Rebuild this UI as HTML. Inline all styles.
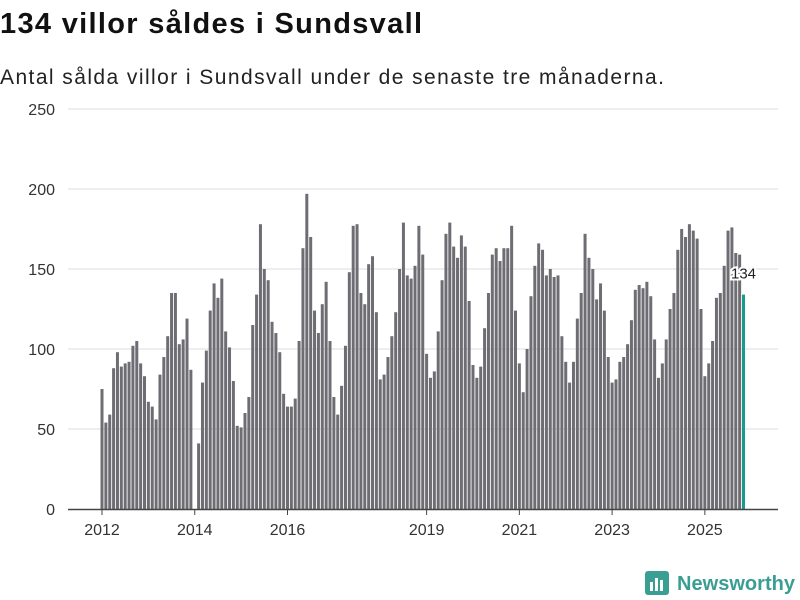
<!DOCTYPE html>
<html><head><meta charset="utf-8"><style>
html,body{margin:0;padding:0;background:#fff;}
svg{display:block;font-family:"Liberation Sans","DejaVu Sans",sans-serif;}
</style></head><body>
<svg id="chart" width="800" height="600" viewBox="0 0 800 600">
<text x="0" y="33" font-size="29" font-weight="bold" fill="#111" textLength="422">134 villor såldes i Sundsvall</text>
<text x="0" y="84" font-size="21" fill="#222" textLength="664">Antal sålda villor i Sundsvall under de senaste tre månaderna.</text>
<g id="grid"></g>
<g id="bars"></g>
<g id="xaxis"></g>
<g>
<rect x="645" y="571" width="24" height="24" rx="3" fill="#3a9e92"/>
<rect x="650" y="582" width="3" height="9" fill="#fff"/>
<rect x="655" y="578" width="3" height="13" fill="#fff"/>
<rect x="660" y="580" width="3" height="11" fill="#fff"/>
<text x="677" y="590" font-size="20" font-weight="bold" fill="#3a9e92" textLength="118">Newsworthy</text>
</g>
</svg>
<script>
const yTicks = [0, 50, 100, 150, 200, 250];
const xTickLabels = ["2012", "2014", "2016", "2019", "2021", "2023", "2025"];
const xTickIndex = [0, 24, 48, 84, 108, 132, 156];
const values2012 = [75,54,59,88,98,89,91,92,102,105,91,83];
const values2013 = [67,64,56,84,95,108,135,135,103,106,119,87];
const values2014 = [0,41,79,99,124,141,132,144,111,101,80,52];
const values2015 = [51,60,70,115,134,178,150,143,117,110,98,72];
const values2016 = [64,64,69,105,163,197,170,124,110,128,142,105];
const values2017 = [70,59,77,102,148,177,178,135,128,153,158,123];
const values2018 = [81,84,95,108,123,150,179,146,144,152,177,159];
const values2019 = [97,82,86,111,143,172,179,164,157,171,164,130];
const values2020 = [90,82,89,113,135,159,163,155,163,163,177,124];
const values2021 = [91,73,100,133,152,166,162,146,150,145,146,108];
const values2022 = [92,79,92,119,135,172,157,150,131,141,124,95];
const values2023 = [79,81,92,95,103,118,137,140,138,142,133,106];
const values2024 = [82,91,106,125,135,162,175,170,178,174,169,125];
const values2025 = [83,91,105,132,135,152,174,176,160,159,134];
const values = [].concat(values2012,values2013,values2014,values2015,values2016,values2017,values2018,values2019,values2020,values2021,values2022,values2023,values2024,values2025);

const NS = "http://www.w3.org/2000/svg";
const y0 = 509, yTop = 109, yMax = 250;
const yScale = v => y0 - (v / yMax) * (y0 - yTop);
const x0 = 102, step = (743.5 - 102) / (values.length - 1);
const xScale = i => x0 + i * step;

const grid = document.getElementById("grid");
yTicks.forEach(t => {
  if (t > 0) {
    const l = document.createElementNS(NS, "line");
    l.setAttribute("x1", 68); l.setAttribute("x2", 778);
    l.setAttribute("y1", yScale(t)); l.setAttribute("y2", yScale(t));
    l.setAttribute("stroke", "#dcdcdc"); l.setAttribute("stroke-width", "1");
    
    
    grid.appendChild(l);
  }
  const tx = document.createElementNS(NS, "text");
  tx.setAttribute("x", 55); tx.setAttribute("y", yScale(t) + 6);
  tx.setAttribute("text-anchor", "end"); tx.setAttribute("font-size", "16"); tx.setAttribute("fill", "#333");
  tx.textContent = t;
  
  
  grid.appendChild(tx);
});

const bars = document.getElementById("bars");
values.forEach((v, i) => {
  const last = i === values.length - 1;
  const r = document.createElementNS(NS, "rect");
  const w = 3;
  r.setAttribute("x", xScale(i) - w / 2);
  r.setAttribute("y", yScale(v));
  r.setAttribute("width", w);
  r.setAttribute("height", y0 - yScale(v));
  r.setAttribute("fill", last ? "#1a9a8f" : "#6e6d73");
  
  
  bars.appendChild(r);
  if (last) {
    const lb = document.createElementNS(NS, "text");
    lb.setAttribute("x", xScale(i)); lb.setAttribute("y", yScale(v) - 16);
    lb.setAttribute("text-anchor", "middle"); lb.setAttribute("font-size", "15"); lb.setAttribute("fill", "#222");
    lb.setAttribute("stroke", "#fff"); lb.setAttribute("stroke-width", "4"); lb.setAttribute("paint-order", "stroke");
    lb.textContent = v;
    
    
    bars.appendChild(lb);
  }
});

const xa = document.getElementById("xaxis");
const al = document.createElementNS(NS, "line");
al.setAttribute("x1", 68); al.setAttribute("x2", 778); al.setAttribute("y1", 509.5); al.setAttribute("y2", 509.5);
al.setAttribute("stroke", "#444"); al.setAttribute("stroke-width", "1.5");


xa.appendChild(al);
xTickLabels.forEach((lab, k) => {
  const x = xScale(xTickIndex[k]);
  const tk = document.createElementNS(NS, "line");
  tk.setAttribute("x1", x); tk.setAttribute("x2", x); tk.setAttribute("y1", 509); tk.setAttribute("y2", 515);
  tk.setAttribute("stroke", "#444");
  
  
  xa.appendChild(tk);
  const t = document.createElementNS(NS, "text");
  t.setAttribute("x", x); t.setAttribute("y", 535);
  t.setAttribute("text-anchor", "middle"); t.setAttribute("font-size", "16"); t.setAttribute("fill", "#333");
  t.textContent = lab;
  
  
  xa.appendChild(t);
});
</script>
</body></html>
